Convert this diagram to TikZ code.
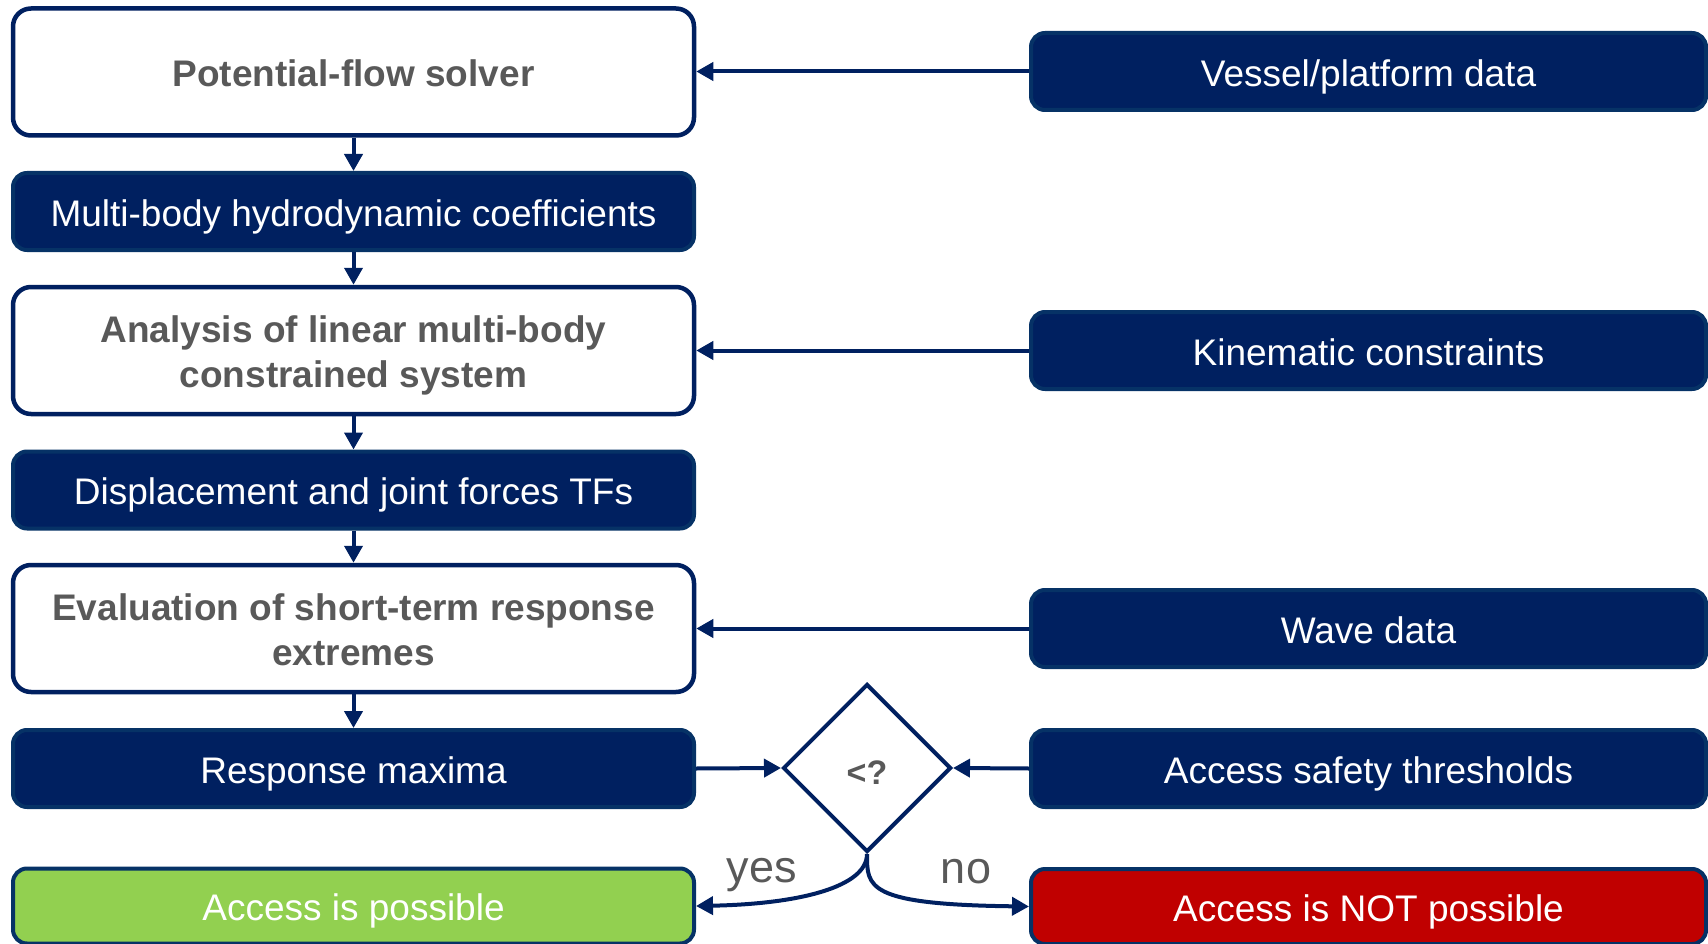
\documentclass[tikz,border=0pt]{standalone}
\usepackage{fontspec}
\setmainfont{Liberation Sans}
\usetikzlibrary{arrows.meta,shapes.geometric}
\definecolor{navy}{RGB}{0,32,96}
\definecolor{navyedge}{RGB}{6,50,102}
\definecolor{txtgray}{RGB}{89,89,89}
\definecolor{okgreen}{RGB}{146,208,80}
\definecolor{nored}{RGB}{192,0,0}
\newcommand\tst{\rule[-0.212em]{0pt}{1.225em}}
\newcommand\tup{\rule[0pt]{0pt}{1.013em}}
\newcommand\tdn{\rule[-0.212em]{0pt}{0.212em}}
\begin{document}
\begin{tikzpicture}[x=1pt,y=-1pt,
  base/.style={rectangle, inner sep=0pt, align=center, font=\fontsize{37}{45}\selectfont},
  whitebox/.style={base, rounded corners=18pt, draw=navy, line width=4.5pt, fill=white, text=txtgray, font=\fontsize{37}{45}\selectfont\bfseries, minimum width=681pt, minimum height=127pt},
  darkbox/.style={base, rounded corners=14pt, draw=navyedge, line width=4pt, fill=navy, text=white, minimum height=77pt},
  leftdark/.style={darkbox, minimum width=681pt},
  rightdark/.style={darkbox, minimum width=675pt},
  arr/.style={draw=navy, line width=4pt, -{Triangle[length=17pt,width=18pt]}},
  lbl/.style={text=txtgray, font=\fontsize{45}{50}\selectfont, inner sep=0pt},
]
\useasboundingbox (0,0) rectangle (1708,944);
% left column
\node[whitebox] (pfs) at (353.5,72) {\tst Potential-flow solver};
\node[leftdark] (mbh) at (353.5,211.5) {\tst Multi-body hydrodynamic coefficients};
\node[whitebox] (ana) at (353.5,350.5) {\tup Analysis of linear multi-body\\constrained system\tdn};
\node[leftdark] (dis) at (353.5,490) {\tst Displacement and joint forces TFs};
\node[whitebox] (eva) at (353.5,628.5) {\tup Evaluation of short-term response\\extremes\tdn};
\node[leftdark] (rmx) at (353.5,768.5) {\tst Response maxima};
\node[leftdark, fill=okgreen, draw=navyedge, minimum height=75pt] (acc) at (353.5,906) {\tst Access is possible};
% right column
\node[rightdark] (ves) at (1368.5,71.5) {\tst Vessel/platform data};
\node[rightdark] (kin) at (1368.5,350.5) {\tst Kinematic constraints};
\node[rightdark] (wav) at (1368.5,628.5) {\tst Wave data};
\node[rightdark] (thr) at (1368.5,768.5) {\tst Access safety thresholds};
\node[rightdark, fill=nored, draw=navyedge, minimum height=75pt] (nop) at (1368.5,906.5) {\tst Access is NOT possible};
% decision
\node[diamond, draw=navy, line width=4pt, fill=white, minimum width=168pt, minimum height=168pt, inner sep=0pt, text=txtgray, text height=32pt, text depth=0pt, font=\fontsize{34}{40}\selectfont\bfseries] (dia) at (867,768) {<?};
% vertical arrows
\draw[arr] (pfs.south) -- (mbh.north);
\draw[arr] (mbh.south) -- (ana.north);
\draw[arr] (ana.south) -- (dis.north);
\draw[arr] (dis.south) -- (eva.north);
\draw[arr] (eva.south) -- (rmx.north);
% horizontal inputs
\draw[arr] (ves.west) -- (pfs.east |- ves.west);
\draw[arr] (kin.west) -- (ana.east |- kin.west);
\draw[arr] (wav.west) -- (eva.east |- wav.west);
\draw[arr] (rmx.east) -- (dia.west);
\draw[arr] (thr.west) -- (dia.east);
% outcomes
\draw[arr] (dia.south) .. controls +(0,33) and +(103,-2) .. (acc.east);
\draw[arr] (dia.south) .. controls +(0,33) and +(-163,-2) .. (nop.west);
\node[lbl] (yes) at (762,875) {yes};
\node[lbl] (no) at (966,872) {no};
\end{tikzpicture}
\end{document}
